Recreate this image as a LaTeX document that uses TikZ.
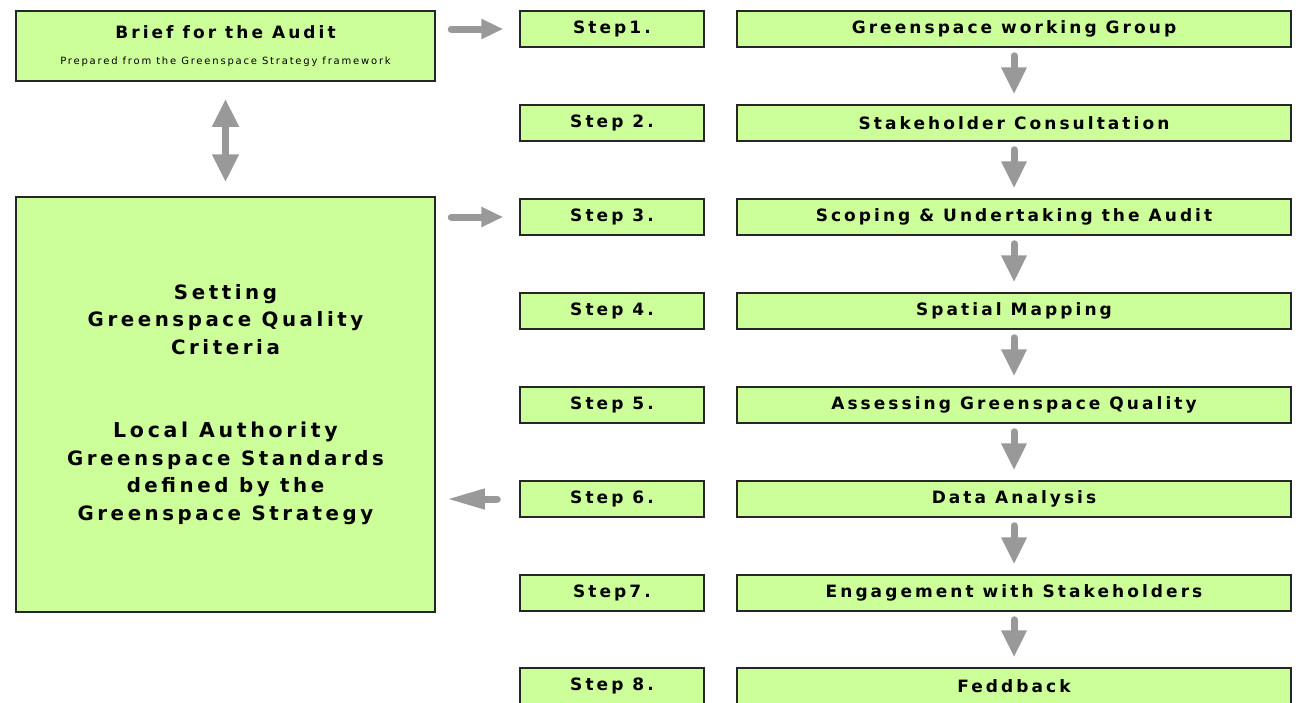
\documentclass[tikz,border=0pt]{standalone}
\usepackage{fontspec}
\setmainfont{DejaVu Sans}
\newfontfamily\pix[LetterSpace=18]{DejaVu Sans}
\usetikzlibrary{arrows.meta}
\definecolor{boxfill}{HTML}{CCFF99}
\definecolor{arrowgray}{HTML}{999999}

\begin{document}
\begin{tikzpicture}[x=1pt,y=-1pt,
  box/.style={draw=black!85, line width=1.5pt, fill=boxfill, inner sep=0pt,
    align=center, text=black, font=\pix\bfseries\fontsize{17}{20}\selectfont},
  stepbox/.style={box, minimum width=184pt, minimum height=36pt},
  taskbox/.style={box, minimum width=554pt, minimum height=36pt},
  downflow/.style={draw=arrowgray, line width=7pt, line cap=round,
    -{Triangle[width=24pt,length=27pt]}, shorten <=8pt, shorten >=10pt},
  sideflow/.style={draw=arrowgray, line width=7pt, line cap=round,
    -{Triangle[width=19pt,length=22pt]}},
  backflow/.style={draw=arrowgray, line width=7pt, line cap=round,
    -{Triangle[width=19pt,length=38pt]}},
  bothflow/.style={draw=arrowgray, line width=7pt,
    {Triangle[width=25pt,length=28pt]}-{Triangle[width=25pt,length=28pt]}}
]
\useasboundingbox (0,0) rectangle (1298,702);

% left column
\node[box, minimum width=419pt, minimum height=70pt] (brief) at (225.5,46)
  {Brief for the Audit\\[6pt]
   {\mdseries\fontsize{10}{10}\selectfont Prepared from the Greenspace Strategy framework}};
\node[box, minimum width=419pt, minimum height=415pt,
      font=\pix\bfseries\fontsize{19.8}{27.5}\selectfont] (big) at (225.5,404.5)
  {Setting\\ Greenspace Quality\\ Criteria\\[56pt]
   {\fontsize{20.5}{27.5}\selectfont Local Authority}\\
   Greenspace Standards\\ defined by the\\ Greenspace Strategy};

% step labels and tasks
\foreach \i/\lab/\task/\yy in {
  1/Step1./Greenspace working Group/29,
  2/Step 2./Stakeholder Consultation/123,
  3/Step 3./Scoping \& Undertaking the Audit/217,
  4/Step 4./Spatial Mapping/311,
  5/Step 5./Assessing Greenspace Quality/405,
  6/Step 6./Data Analysis/499,
  7/Step7./Engagement with Stakeholders/593,
  8/Step 8./Feddback/686} {
  \node[stepbox] (s\i) at (612,\yy) {\lab};
  \node[taskbox] (t\i) at (1014,\yy) {\task};
}

% flow down the task column
\foreach \i [evaluate=\i as \j using int(\i+1)] in {1,...,7}
  \draw[downflow] (t\i.south) -- (t\j.north);

% links between the left column and the steps
\draw[sideflow, shorten <=15.5pt, shorten >=16pt] (brief.east |- s1.west) -- (s1.west);
\draw[sideflow, shorten <=15.5pt, shorten >=16pt] (big.east |- s3.west) -- (s3.west);
\draw[backflow, shorten <=22pt, shorten >=11pt] (s6.west) -- (big.east |- s6.west);
\draw[bothflow, shorten <=17pt, shorten >=14pt] (brief.south) -- (big.north);
\end{tikzpicture}
\end{document}
